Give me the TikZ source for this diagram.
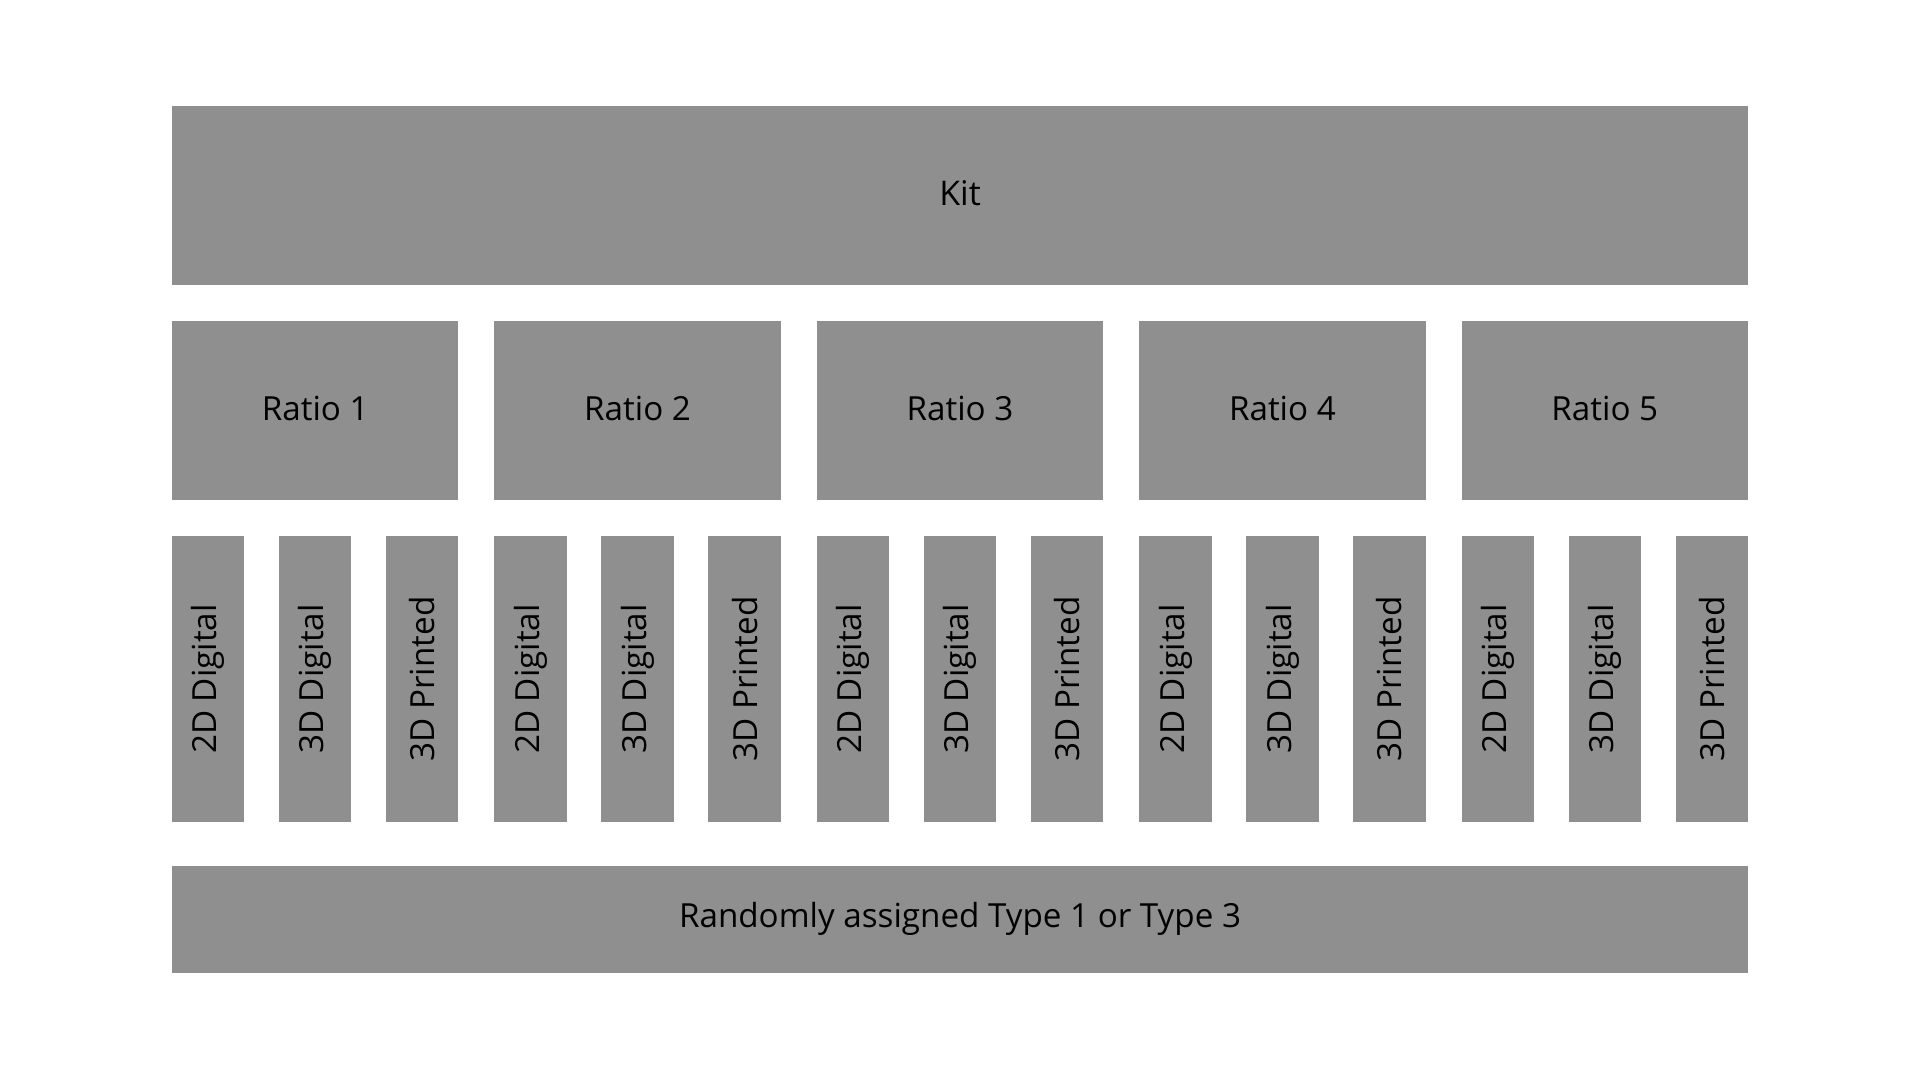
\documentclass[tikz,border=0pt]{standalone}
\usepackage{fontspec}
\setmainfont{Open Sans}
\definecolor{boxgray}{HTML}{8F8F8F}
\begin{document}
\begin{tikzpicture}[x=0.5pt,y=-0.5pt,
  blk/.style={fill=boxgray, draw=none, inner sep=0pt, text=black, font=\fontsize{16.6}{20}\selectfont},
  widebox/.style={blk, minimum width=788pt},
  ratiobox/.style={blk, minimum width=143.2pt, minimum height=89.5pt},
  smallbox/.style={blk, minimum width=36.2pt, minimum height=143pt},
  txt/.style={inner sep=0pt, text=black, font=\fontsize{16.6}{20}\selectfont},
  vlabel/.style={rotate=90, inner sep=0pt, text=black, font=\fontsize{16.6}{20}\selectfont}
]
\useasboundingbox (0,0) rectangle (1920,1080);
\node[widebox, minimum height=89.5pt] (kit) at (960,195.5) {};
\node[txt, font=\fontsize{17}{20}\selectfont, yshift=1.3pt] (kitlab) at (kit.center) {Kit};
\foreach \i in {1,...,5} {
  \pgfmathsetmacro{\rx}{315.2+322.4*(\i-1)}
  \node[ratiobox] (ratio\i) at (\rx,410.5) {};
  \node[txt, yshift=1.2pt] (rlab\i) at (ratio\i.center) {Ratio \i};
  \foreach \j/\lab in {1/2D Digital,2/3D Digital,3/3D Printed} {
    \pgfmathsetmacro{\sx}{172+322.4*(\i-1)+36.2+107*(\j-1)}
    \node[smallbox] (s\i\j) at (\sx,679) {};
    \node[vlabel] (l\i\j) at (s\i\j.center) {\lab};
  }
}
\node[widebox, minimum height=53.35pt] (rand) at (960,919.3) {Randomly assigned Type 1 or Type 3};
\end{tikzpicture}
\end{document}
